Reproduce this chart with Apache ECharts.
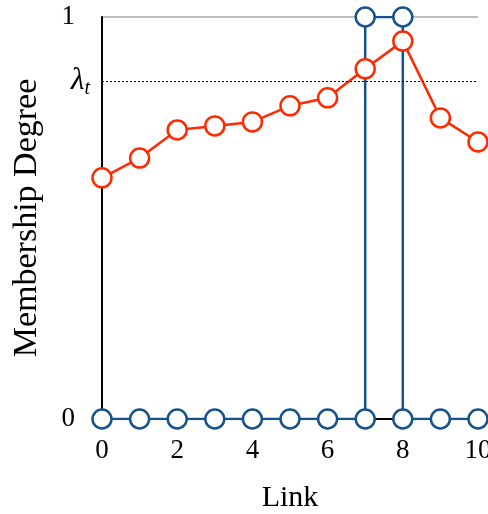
<!DOCTYPE html>
<html>
<head>
<meta charset="utf-8">
<script src="https://cdn.jsdelivr.net/npm/echarts@6/dist/echarts.min.js"></script>
<style>
    html, body { margin: 0; padding: 0; background: #fff; }
    #chart { width: 488px; height: 514px; }
</style>
</head>
<body>
<div id="chart"></div>
<script>
// 数据
var links = [0, 1, 2, 3, 4, 5, 6, 7, 8, 9, 10];
var redValues = [0.600, 0.649, 0.719, 0.729, 0.739, 0.779, 0.799, 0.871, 0.940, 0.749, 0.689];
// 蓝线: 7 和 8 处为阶跃
var blueX = [0, 1, 2, 3, 4, 5, 6, 7, 7, 8, 8, 9, 10];
var blueY = [0, 0, 0, 0, 0, 0, 0, 0, 1, 1, 0, 0, 0];
var lambdaT = 0.843;
var xTicks = [0, 2, 4, 6, 8, 10];

(function () {
    var myChart = echarts.init(document.getElementById("chart"));
    var font = "Liberation Serif";
    var red = "#ff2a00";
    var blue = "#16538c";

    var redData = links.map(function (x, i) { return [x, redValues[i]]; });
    var blueData = blueX.map(function (x, i) { return [x, blueY[i]]; });

    var option = {
        animation: false,
        grid: {
            left: 102,
            right: 10,
            top: 17,
            bottom: 95,
            outerBoundsMode: 'none'
        },
        xAxis: {
            type: 'value',
            min: 0,
            max: 10,
            interval: 2,
            name: 'Link',
            nameLocation: 'middle',
            nameGap: 64,
            nameTextStyle: { fontFamily: font, fontSize: 30, color: '#000' },
            axisLine: { lineStyle: { color: '#000', width: 2 } },
            axisTick: { show: false },
            splitLine: { show: false },
            axisLabel: {
                fontFamily: font, fontSize: 27, color: '#000', margin: 18,
                customValues: xTicks
            }
        },
        yAxis: {
            type: 'value',
            min: 0,
            max: 1,
            interval: 1,
            name: 'Membership Degree',
            nameLocation: 'middle',
            nameGap: 58,
            nameTextStyle: { fontFamily: font, fontSize: 34, color: '#000' },
            axisLine: { show: true, lineStyle: { color: '#000', width: 2 } },
            axisTick: { show: false },
            splitLine: { show: true, lineStyle: { color: '#bdbdbd', width: 2 } },
            axisLabel: { fontFamily: font, fontSize: 27, color: '#000', margin: 27 }
        },
        series: [
            {
                name: 'blue',
                type: 'line',
                data: blueData,
                symbol: 'circle',
                symbolSize: 19,
                itemStyle: { color: '#fff', borderColor: blue, borderWidth: 2.5 },
                lineStyle: { color: blue, width: 2.5 },
                z: 2
            },
            {
                name: 'red',
                type: 'line',
                data: redData,
                symbol: 'circle',
                symbolSize: 19,
                itemStyle: { color: '#fff', borderColor: red, borderWidth: 2.5 },
                lineStyle: { color: red, width: 2.5 },
                z: 3,
                markLine: {
                    silent: true,
                    symbol: 'none',
                    lineStyle: { color: '#000', type: [2, 2], width: 1.2 },
                    label: {
                        position: 'start',
                        distance: 12,
                        formatter: '{l|λ}{s|t}',
                        rich: {
                            l: { fontFamily: font, fontSize: 31, fontStyle: 'italic', color: '#000' },
                            s: { fontFamily: font, fontSize: 20, fontStyle: 'italic', color: '#000', padding: [14, 0, 0, 0] }
                        }
                    },
                    data: [{ yAxis: lambdaT }]
                }
            }
        ]
    };
    myChart.setOption(option);
})();
</script>
</body>
</html>
